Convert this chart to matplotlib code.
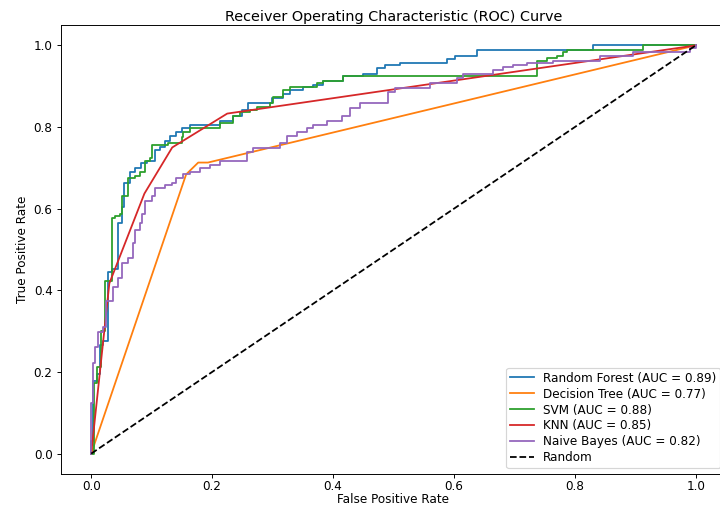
import matplotlib
matplotlib.use("Agg")
import matplotlib.pyplot as plt

# Points de montée des courbes en escalier (fpr où la courbe monte, tpr atteint)
rf_fpr = [0, 0, 0.003, 0.010, 0.015, 0.020, 0.028, 0.035, 0.045, 0.051, 0.055, 0.064,
          0.073, 0.083, 0.093, 0.106, 0.114, 0.122, 0.131, 0.140, 0.150, 0.164, 0.213,
          0.235, 0.250, 0.260, 0.299, 0.317, 0.329, 0.350, 0.367, 0.383, 0.417, 0.450,
          0.473, 0.486, 0.511, 0.588, 0.602, 0.638, 0.830, 1.0]
rf_tpr = [0, 0.032, 0.179, 0.196, 0.265, 0.277, 0.444, 0.453, 0.566, 0.603, 0.664, 0.689,
          0.699, 0.711, 0.718, 0.743, 0.752, 0.767, 0.777, 0.787, 0.797, 0.804, 0.816,
          0.828, 0.841, 0.858, 0.870, 0.882, 0.890, 0.897, 0.904, 0.914, 0.926, 0.931,
          0.944, 0.951, 0.956, 0.966, 0.975, 0.988, 1.0, 1.0]

svm_fpr = [0, 0.005, 0.010, 0.017, 0.023, 0.035, 0.040, 0.048, 0.051, 0.061, 0.073,
           0.081, 0.089, 0.098, 0.101, 0.127, 0.150, 0.152, 0.164, 0.213, 0.235, 0.246,
           0.263, 0.274, 0.296, 0.301, 0.317, 0.329, 0.374, 0.383, 0.417, 0.737, 0.754,
           0.770, 0.780, 0.787, 0.912, 1.0]
svm_tpr = [0, 0.172, 0.211, 0.300, 0.424, 0.576, 0.583, 0.588, 0.632, 0.674, 0.679,
           0.689, 0.718, 0.725, 0.755, 0.762, 0.775, 0.787, 0.797, 0.809, 0.828, 0.836,
           0.841, 0.848, 0.860, 0.873, 0.890, 0.897, 0.909, 0.914, 0.926, 0.963, 0.968,
           0.975, 0.983, 0.988, 1.0, 1.0]

nb_fpr = [0, 0, 0.003, 0.007, 0.012, 0.020, 0.025, 0.036, 0.045, 0.051, 0.061, 0.069,
          0.073, 0.081, 0.084, 0.089, 0.101, 0.106, 0.122, 0.134, 0.140, 0.152, 0.164,
          0.180, 0.197, 0.213, 0.258, 0.268, 0.312, 0.324, 0.340, 0.357, 0.367, 0.390,
          0.415, 0.428, 0.445, 0.491, 0.502, 0.560, 0.605, 0.615, 0.664, 0.681, 0.698,
          0.721, 0.764, 0.841, 0.896, 0.990, 1.0]
nb_tpr = [0, 0.123, 0.221, 0.260, 0.297, 0.309, 0.375, 0.407, 0.431, 0.466, 0.480, 0.517,
          0.547, 0.564, 0.588, 0.620, 0.632, 0.650, 0.657, 0.664, 0.676, 0.686, 0.691,
          0.699, 0.708, 0.718, 0.738, 0.748, 0.760, 0.779, 0.787, 0.797, 0.804, 0.816,
          0.826, 0.846, 0.858, 0.885, 0.895, 0.909, 0.919, 0.931, 0.939, 0.946, 0.951,
          0.958, 0.963, 0.973, 0.983, 0.993, 1.0]

# Courbes en segments droits
dt_fpr = [0, 0.157, 0.177, 0.193, 1.0]
dt_tpr = [0, 0.684, 0.713, 0.713, 1.0]

knn_fpr = [0, 0.030, 0.088, 0.134, 0.225, 1.0]
knn_tpr = [0, 0.417, 0.637, 0.750, 0.833, 1.0]

auc = {"Random Forest": 0.89, "Decision Tree": 0.77, "SVM": 0.88,
       "KNN": 0.85, "Naive Bayes": 0.82}

DPI = 86
fig = plt.figure(figsize=(720 / DPI, 506 / DPI), dpi=DPI)
ax = fig.add_axes([0.0847, 0.0632, 0.9236, 0.8874])

ax.plot(rf_fpr, rf_tpr, drawstyle="steps-post", color="tab:blue",
        label=f"Random Forest (AUC = {auc['Random Forest']:.2f})")
ax.plot(dt_fpr, dt_tpr, color="tab:orange",
        label=f"Decision Tree (AUC = {auc['Decision Tree']:.2f})")
ax.plot(svm_fpr, svm_tpr, drawstyle="steps-post", color="tab:green",
        label=f"SVM (AUC = {auc['SVM']:.2f})")
ax.plot(knn_fpr, knn_tpr, color="tab:red",
        label=f"KNN (AUC = {auc['KNN']:.2f})")
ax.plot(nb_fpr, nb_tpr, drawstyle="steps-post", color="tab:purple",
        label=f"Naive Bayes (AUC = {auc['Naive Bayes']:.2f})")
ax.plot([0, 1], [0, 1], "k--", label="Random")

ax.tick_params(axis="x", pad=2, length=3)
ax.set_xlabel("False Positive Rate", labelpad=0)
ax.set_ylabel("True Positive Rate")
ax.set_title("Receiver Operating Characteristic (ROC) Curve", pad=3)
ax.legend(loc="lower right", labelspacing=0.25, borderpad=0.3)

fig.savefig("out.png", dpi=DPI)
